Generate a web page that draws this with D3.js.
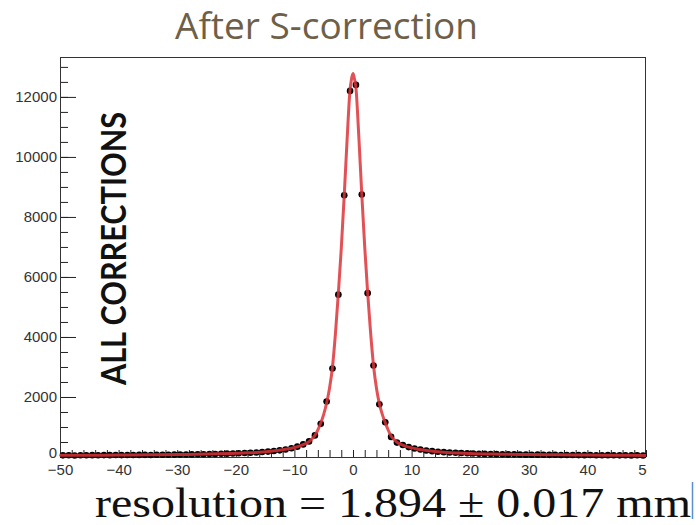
<!DOCTYPE html>
<html>
<head>
<meta charset="utf-8">
<script src="https://cdn.jsdelivr.net/npm/d3@7"></script>
<style>
  html, body { margin: 0; padding: 0; background: #fff; }
  svg { display: block; }
</style>
</head>
<body>
<svg id="chart" width="696" height="525"></svg>
<script>
// Residual distribution: 100 bins of 1 mm from -50 to 50
const binLow = -50;
const binWidth = 1;
const counts = [
  // -49.5 .. -40.5
  55, 58, 52, 60, 57, 62, 59, 64, 61, 66,
  // -39.5 .. -30.5
  63, 68, 66, 70, 72, 69, 75, 77, 74, 80,
  // -29.5 .. -20.5
  83, 81, 87, 90, 93, 97, 101, 106, 112, 118,
  // -19.5 .. -10.5
  125, 133, 142, 152, 165, 180, 198, 222, 252, 292,
  // -9.5 .. -0.5
  345, 420, 520, 720, 1110, 1850, 2950, 5410, 8720, 12200,
  // 0.5 .. 9.5
  12400, 8750, 5460, 3050, 1760, 1160, 670, 480, 400, 330,
  // 10.5 .. 19.5
  285, 248, 218, 195, 176, 162, 150, 140, 131, 123,
  // 20.5 .. 29.5
  116, 110, 104, 99, 95, 91, 86, 88, 82, 79,
  // 30.5 .. 39.5
  76, 78, 73, 71, 74, 68, 66, 69, 64, 62,
  // 40.5 .. 49.5
  65, 60, 58, 61, 57, 55, 58, 53, 56, 52
];

// Fitted function, sampled
const fitX = [-50, -45, -40, -35, -30, -25, -20, -18, -16, -14, -12, -10.5, -9.5, -8.5, -7.5, -7, -6.5, -6, -5.5, -5, -4.5, -4, -3.5, -3, -2.5, -2, -1.5, -1, -0.5, -0.25, 0,
              0.25, 0.5, 1, 1.5, 2, 2.5, 3, 3.5, 4, 4.5, 5, 5.5, 6, 6.5, 7, 7.5, 8.5, 9.5, 10.5, 12, 14, 16, 18, 20, 25, 30, 35, 40, 45, 50];
const fitY = [55, 59, 65, 72, 82, 97, 122, 138, 158, 190, 240, 290, 340, 410, 510, 600, 720, 900, 1130, 1420, 1800, 2300, 3000, 4100, 5450, 6950, 8700, 10600, 12250, 12600, 12780,
              12600, 12300, 10650, 8750, 7000, 5480, 4150, 3050, 2300, 1780, 1420, 1150, 900, 700, 580, 490, 395, 330, 285, 235, 185, 152, 132, 116, 94, 80, 71, 64, 58, 54];

const xMajorTicks = [-50, -40, -30, -20, -10, 0, 10, 20, 30, 40, 50];
const xMinorTicks = d3.range(-50, 50.01, 2);
const yMajorTicks = [0, 2000, 4000, 6000, 8000, 10000, 12000];
const yMinorTicks = d3.range(0, 13330, 500);

const titleText = "After S-correction";
const sideLabel = "ALL CORRECTIONS";
const resultText = "resolution = 1.894 \u00B1 0.017 mm";

const svg = d3.select("#chart");
const W = 696, H = 525;
const frame = { left: 60, right: 646, top: 57, bottom: 457 };

const x = d3.scaleLinear().domain([-50, 50]).range([frame.left, frame.right]);
const y = d3.scaleLinear().domain([0, 13330]).range([frame.bottom, frame.top]);

svg.append("rect").attr("width", W).attr("height", H).attr("fill", "#fff");

// Title
svg.append("text")
  .attr("x", 175).attr("y", 39)
  .attr("font-family", "'Open Sans', sans-serif")
  .attr("font-size", 37)
  .attr("textLength", 303)
  .attr("lengthAdjust", "spacingAndGlyphs")
  .attr("fill", "#6e5f48")
  .text(titleText);

const axisFont = "'Liberation Sans', Arial, sans-serif";
const fmtTick = d => (d < 0 ? "\u2212" + Math.abs(d) : String(d));

// Clip for the x tick labels (right edge of the panel cuts the last one)
svg.append("defs").append("clipPath").attr("id", "xlabClip")
  .append("rect").attr("x", 0).attr("y", 0).attr("width", 647).attr("height", H);

// X axis: minor ticks
svg.append("g")
  .attr("transform", `translate(0,${frame.bottom})`)
  .call(d3.axisBottom(x).tickValues(xMinorTicks).tickSize(-7).tickFormat(""))
  .call(g => g.select(".domain").remove())
  .call(g => g.selectAll("line").attr("stroke", "#222"));

// X axis: major ticks and labels
svg.append("g")
  .attr("transform", `translate(0,${frame.bottom})`)
  .attr("clip-path", "url(#xlabClip)")
  .call(d3.axisBottom(x).tickValues(xMajorTicks).tickSize(-13).tickPadding(7).tickFormat(fmtTick))
  .call(g => g.select(".domain").remove())
  .call(g => g.selectAll("line").attr("stroke", "#222"))
  .call(g => g.selectAll("text").attr("font-family", axisFont).attr("font-size", 15).attr("fill", "#333"));

// Y axis: minor ticks
svg.append("g")
  .attr("transform", `translate(${frame.left},0)`)
  .call(d3.axisLeft(y).tickValues(yMinorTicks).tickSize(-8).tickFormat(""))
  .call(g => g.select(".domain").remove())
  .call(g => g.selectAll("line").attr("stroke", "#222"));

// Y axis: major ticks and labels
svg.append("g")
  .attr("transform", `translate(${frame.left},0)`)
  .call(d3.axisLeft(y).tickValues(yMajorTicks).tickSize(-16).tickPadding(3).tickFormat(d => String(d)))
  .call(g => g.select(".domain").remove())
  .call(g => g.selectAll("line").attr("stroke", "#222"))
  .call(g => g.selectAll("text").attr("font-family", axisFont).attr("font-size", 15).attr("fill", "#333"))
  .call(g => g.selectAll(".tick").filter(d => d === 0).select("text").attr("dy", "0.02em"));

// Frame
svg.append("rect")
  .attr("x", frame.left + 0.5).attr("y", frame.top + 0.5)
  .attr("width", frame.right - frame.left - 1).attr("height", frame.bottom - frame.top)
  .attr("fill", "none").attr("stroke", "#333").attr("stroke-width", 1);

// Side label
svg.append("text")
  .attr("transform", "translate(126,385) rotate(-90)")
  .attr("font-family", "Lato, 'Open Sans', sans-serif")
  .attr("font-weight", "bold")
  .attr("font-size", 34)
  .attr("textLength", 273)
  .attr("lengthAdjust", "spacingAndGlyphs")
  .attr("fill", "#111")
  .text(sideLabel);

// Data points with error bars
const pts = counts.map((c, i) => ({ x: binLow + (i + 0.5) * binWidth, c }));
const pg = svg.append("g");
pg.selectAll("line.xerr").data(pts).join("line")
  .attr("x1", d => x(d.x - binWidth / 2)).attr("x2", d => x(d.x + binWidth / 2))
  .attr("y1", d => y(d.c)).attr("y2", d => y(d.c))
  .attr("stroke", "#000").attr("stroke-width", 1.2);
pg.selectAll("line.yerr").data(pts).join("line")
  .attr("x1", d => x(d.x)).attr("x2", d => x(d.x))
  .attr("y1", d => y(d.c + Math.sqrt(d.c))).attr("y2", d => y(Math.max(0, d.c - Math.sqrt(d.c))))
  .attr("stroke", "#000").attr("stroke-width", 1);
pg.selectAll("circle").data(pts).join("circle")
  .attr("cx", d => x(d.x)).attr("cy", d => y(d.c))
  .attr("r", 3.3).attr("fill", "#000");

// Fit curve
const fitPts = fitX.map((v, i) => [v, fitY[i]]);
svg.append("path")
  .datum(fitPts)
  .attr("d", d3.line().x(d => x(d[0])).y(d => y(d[1])).curve(d3.curveMonotoneX))
  .attr("fill", "none")
  .attr("stroke", "#dc3338")
  .attr("stroke-opacity", 0.85)
  .attr("stroke-width", 3)
  .attr("stroke-linejoin", "round");

// Fit result
svg.append("text")
  .attr("x", 95).attr("y", 517)
  .attr("font-family", "'Liberation Serif', 'DejaVu Serif', serif")
  .attr("font-size", 43)
  .attr("textLength", 596)
  .attr("lengthAdjust", "spacingAndGlyphs")
  .attr("fill", "#111")
  .text(resultText);

// Text cursor mark at the right edge
svg.append("line")
  .attr("x1", 692.5).attr("x2", 692.5).attr("y1", 482).attr("y2", 519)
  .attr("stroke", "#5b8fd0").attr("stroke-width", 1.5);
</script>
</body>
</html>
